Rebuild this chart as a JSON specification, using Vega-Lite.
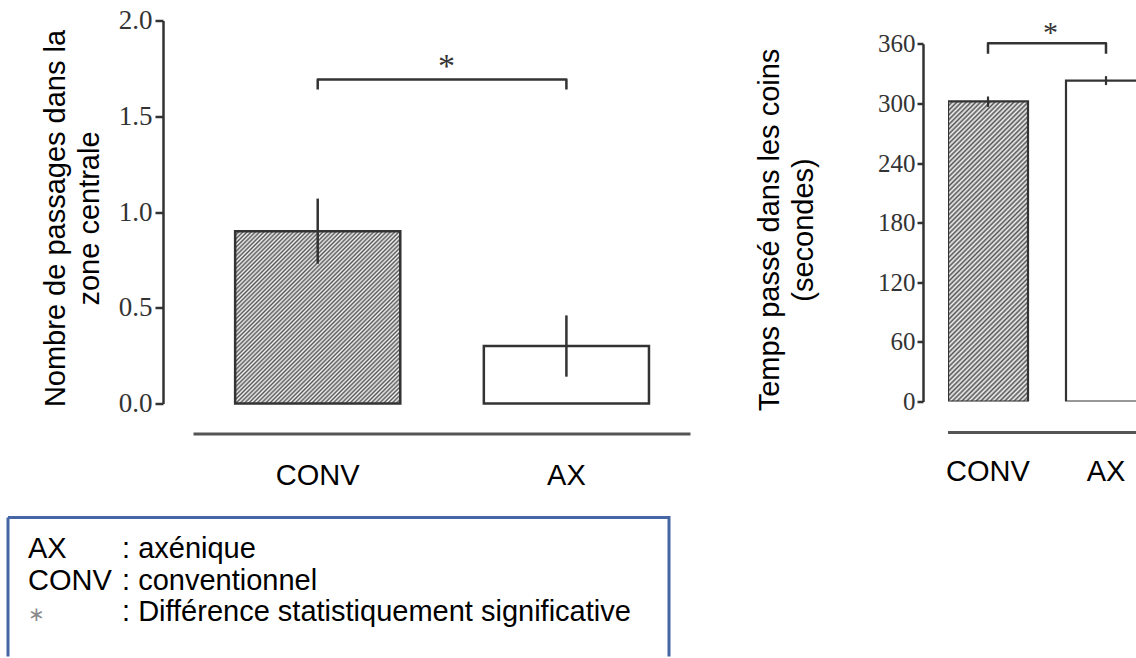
{
  "$schema": "https://vega.github.io/schema/vega-lite/v6.json",
  "padding": {"left": 6, "top": 6.5, "right": 0, "bottom": 0},
  "background": "white",
  "config": {"view": {"stroke": null}, "axis": {"grid": false}},
  "spacing": 25,
  "vconcat": [
    {
      "hconcat": [
        {
          "width": 682,
          "height": 383,
          "data": {"values": [
            {"group": "CONV", "mean": 0.9, "lo": 0.73, "hi": 1.07},
            {"group": "AX", "mean": 0.3, "lo": 0.14, "hi": 0.46}
          ]},
          "encoding": {
            "x": {"field": "group", "type": "nominal",
              "scale": {"domain": ["CONV", "AX"], "paddingInner": 0.336, "paddingOuter": 0.5392, "align": 0.847},
              "axis": {"title": null, "offset": 30, "labelAngle": 0, "labelFont": "Liberation Sans", "labelFontSize": 29, "labelColor": "#000", "labelPadding": 28, "ticks": false, "tickSize": 0, "domainColor": "#555", "domainWidth": 3, "domainDash": [0, 185, 497, 10]}},
            "y": {"field": "mean", "type": "quantitative",
              "scale": {"domain": [0, 2], "nice": false, "zero": true},
              "axis": {"values": [0, 0.5, 1, 1.5, 2], "format": ".1f", "offset": -155,
                "title": ["Nombre de passages dans la", "zone centrale"],
                "titleFont": "Liberation Sans", "titleFontSize": 29, "titleFontWeight": "normal", "titleColor": "#000", "titlePadding": 14, "titleY": 197.5, "titleLineHeight": 34,
                "labelFont": "Liberation Serif", "labelFontSize": 27, "labelColor": "#333", "labelPadding": 3,
                "tickSize": 8, "tickWidth": 2.5, "tickColor": "#333", "domainColor": "#333", "domainWidth": 2.5}}
          },
          "layer": [
            {
              "transform": [{"filter": "datum.group === 'CONV'"}],
              "mark": {"type": "bar", "stroke": "#333", "strokeWidth": 2.5,
                "fill": {"gradient": "linear", "x1": 0, "y1": 0, "x2": 0.9776, "y2": 1.0214, "stops": [
{"offset":0,"color":"#555"},{"offset":0.00625,"color":"#f5f5f5"},{"offset":0.0125,"color":"#555"},{"offset":0.01875,"color":"#f5f5f5"},{"offset":0.025,"color":"#555"},{"offset":0.03125,"color":"#f5f5f5"},{"offset":0.0375,"color":"#555"},{"offset":0.04375,"color":"#f5f5f5"},{"offset":0.05,"color":"#555"},{"offset":0.05625,"color":"#f5f5f5"},{"offset":0.0625,"color":"#555"},{"offset":0.06875,"color":"#f5f5f5"},{"offset":0.075,"color":"#555"},{"offset":0.08125,"color":"#f5f5f5"},{"offset":0.0875,"color":"#555"},{"offset":0.09375,"color":"#f5f5f5"},
{"offset":0.1,"color":"#555"},{"offset":0.10625,"color":"#f5f5f5"},{"offset":0.1125,"color":"#555"},{"offset":0.11875,"color":"#f5f5f5"},{"offset":0.125,"color":"#555"},{"offset":0.13125,"color":"#f5f5f5"},{"offset":0.1375,"color":"#555"},{"offset":0.14375,"color":"#f5f5f5"},{"offset":0.15,"color":"#555"},{"offset":0.15625,"color":"#f5f5f5"},{"offset":0.1625,"color":"#555"},{"offset":0.16875,"color":"#f5f5f5"},{"offset":0.175,"color":"#555"},{"offset":0.18125,"color":"#f5f5f5"},{"offset":0.1875,"color":"#555"},{"offset":0.19375,"color":"#f5f5f5"},
{"offset":0.2,"color":"#555"},{"offset":0.20625,"color":"#f5f5f5"},{"offset":0.2125,"color":"#555"},{"offset":0.21875,"color":"#f5f5f5"},{"offset":0.225,"color":"#555"},{"offset":0.23125,"color":"#f5f5f5"},{"offset":0.2375,"color":"#555"},{"offset":0.24375,"color":"#f5f5f5"},{"offset":0.25,"color":"#555"},{"offset":0.25625,"color":"#f5f5f5"},{"offset":0.2625,"color":"#555"},{"offset":0.26875,"color":"#f5f5f5"},{"offset":0.275,"color":"#555"},{"offset":0.28125,"color":"#f5f5f5"},{"offset":0.2875,"color":"#555"},{"offset":0.29375,"color":"#f5f5f5"},
{"offset":0.3,"color":"#555"},{"offset":0.30625,"color":"#f5f5f5"},{"offset":0.3125,"color":"#555"},{"offset":0.31875,"color":"#f5f5f5"},{"offset":0.325,"color":"#555"},{"offset":0.33125,"color":"#f5f5f5"},{"offset":0.3375,"color":"#555"},{"offset":0.34375,"color":"#f5f5f5"},{"offset":0.35,"color":"#555"},{"offset":0.35625,"color":"#f5f5f5"},{"offset":0.3625,"color":"#555"},{"offset":0.36875,"color":"#f5f5f5"},{"offset":0.375,"color":"#555"},{"offset":0.38125,"color":"#f5f5f5"},{"offset":0.3875,"color":"#555"},{"offset":0.39375,"color":"#f5f5f5"},
{"offset":0.4,"color":"#555"},{"offset":0.40625,"color":"#f5f5f5"},{"offset":0.4125,"color":"#555"},{"offset":0.41875,"color":"#f5f5f5"},{"offset":0.425,"color":"#555"},{"offset":0.43125,"color":"#f5f5f5"},{"offset":0.4375,"color":"#555"},{"offset":0.44375,"color":"#f5f5f5"},{"offset":0.45,"color":"#555"},{"offset":0.45625,"color":"#f5f5f5"},{"offset":0.4625,"color":"#555"},{"offset":0.46875,"color":"#f5f5f5"},{"offset":0.475,"color":"#555"},{"offset":0.48125,"color":"#f5f5f5"},{"offset":0.4875,"color":"#555"},{"offset":0.49375,"color":"#f5f5f5"},
{"offset":0.5,"color":"#555"},{"offset":0.50625,"color":"#f5f5f5"},{"offset":0.5125,"color":"#555"},{"offset":0.51875,"color":"#f5f5f5"},{"offset":0.525,"color":"#555"},{"offset":0.53125,"color":"#f5f5f5"},{"offset":0.5375,"color":"#555"},{"offset":0.54375,"color":"#f5f5f5"},{"offset":0.55,"color":"#555"},{"offset":0.55625,"color":"#f5f5f5"},{"offset":0.5625,"color":"#555"},{"offset":0.56875,"color":"#f5f5f5"},{"offset":0.575,"color":"#555"},{"offset":0.58125,"color":"#f5f5f5"},{"offset":0.5875,"color":"#555"},{"offset":0.59375,"color":"#f5f5f5"},
{"offset":0.6,"color":"#555"},{"offset":0.60625,"color":"#f5f5f5"},{"offset":0.6125,"color":"#555"},{"offset":0.61875,"color":"#f5f5f5"},{"offset":0.625,"color":"#555"},{"offset":0.63125,"color":"#f5f5f5"},{"offset":0.6375,"color":"#555"},{"offset":0.64375,"color":"#f5f5f5"},{"offset":0.65,"color":"#555"},{"offset":0.65625,"color":"#f5f5f5"},{"offset":0.6625,"color":"#555"},{"offset":0.66875,"color":"#f5f5f5"},{"offset":0.675,"color":"#555"},{"offset":0.68125,"color":"#f5f5f5"},{"offset":0.6875,"color":"#555"},{"offset":0.69375,"color":"#f5f5f5"},
{"offset":0.7,"color":"#555"},{"offset":0.70625,"color":"#f5f5f5"},{"offset":0.7125,"color":"#555"},{"offset":0.71875,"color":"#f5f5f5"},{"offset":0.725,"color":"#555"},{"offset":0.73125,"color":"#f5f5f5"},{"offset":0.7375,"color":"#555"},{"offset":0.74375,"color":"#f5f5f5"},{"offset":0.75,"color":"#555"},{"offset":0.75625,"color":"#f5f5f5"},{"offset":0.7625,"color":"#555"},{"offset":0.76875,"color":"#f5f5f5"},{"offset":0.775,"color":"#555"},{"offset":0.78125,"color":"#f5f5f5"},{"offset":0.7875,"color":"#555"},{"offset":0.79375,"color":"#f5f5f5"},
{"offset":0.8,"color":"#555"},{"offset":0.80625,"color":"#f5f5f5"},{"offset":0.8125,"color":"#555"},{"offset":0.81875,"color":"#f5f5f5"},{"offset":0.825,"color":"#555"},{"offset":0.83125,"color":"#f5f5f5"},{"offset":0.8375,"color":"#555"},{"offset":0.84375,"color":"#f5f5f5"},{"offset":0.85,"color":"#555"},{"offset":0.85625,"color":"#f5f5f5"},{"offset":0.8625,"color":"#555"},{"offset":0.86875,"color":"#f5f5f5"},{"offset":0.875,"color":"#555"},{"offset":0.88125,"color":"#f5f5f5"},{"offset":0.8875,"color":"#555"},{"offset":0.89375,"color":"#f5f5f5"},
{"offset":0.9,"color":"#555"},{"offset":0.90625,"color":"#f5f5f5"},{"offset":0.9125,"color":"#555"},{"offset":0.91875,"color":"#f5f5f5"},{"offset":0.925,"color":"#555"},{"offset":0.93125,"color":"#f5f5f5"},{"offset":0.9375,"color":"#555"},{"offset":0.94375,"color":"#f5f5f5"},{"offset":0.95,"color":"#555"},{"offset":0.95625,"color":"#f5f5f5"},{"offset":0.9625,"color":"#555"},{"offset":0.96875,"color":"#f5f5f5"},{"offset":0.975,"color":"#555"},{"offset":0.98125,"color":"#f5f5f5"},{"offset":0.9875,"color":"#555"},{"offset":0.99375,"color":"#f5f5f5"},
{"offset":1,"color":"#555"}
                ]}}
            },
            {
              "transform": [{"filter": "datum.group === 'AX'"}],
              "mark": {"type": "bar", "fill": "white", "stroke": "#333", "strokeWidth": 2.5}
            },
            {
              "mark": {"type": "rule", "color": "#333", "strokeWidth": 2.5},
              "encoding": {"y": {"field": "lo", "type": "quantitative"}, "y2": {"field": "hi"}}
            },
            {
              "data": {"values": [
                {"group": "CONV", "by": 1.64, "o": 1},
                {"group": "CONV", "by": 1.692, "o": 2},
                {"group": "AX", "by": 1.692, "o": 3},
                {"group": "AX", "by": 1.64, "o": 4}
              ]},
              "mark": {"type": "line", "color": "#333", "strokeWidth": 2.5, "strokeJoin": "round"},
              "encoding": {"y": {"field": "by", "type": "quantitative"}, "order": {"field": "o", "type": "quantitative"}}
            },
            {
              "data": {"values": [{"label": "*", "ay": 1.706}]},
              "mark": {"type": "text", "font": "Liberation Serif", "fontSize": 34, "color": "#333", "align": "center", "baseline": "alphabetic"},
              "encoding": {"x": {"datum": "CONV", "bandPosition": 1.28}, "y": {"field": "ay", "type": "quantitative"}, "text": {"field": "label"}}
            }
          ]
        },
        {
          "width": 188,
          "height": 381,
          "data": {"values": [
            {"group": "CONV", "mean": 302, "lo": 296.5, "hi": 307},
            {"group": "AX", "mean": 323, "lo": 318.5, "hi": 327.5}
          ]},
          "encoding": {
            "x": {"field": "group", "type": "nominal",
              "scale": {"domain": ["CONV", "AX"], "range": [0, 198], "paddingInner": 0.322, "paddingOuter": 0},
              "axis": {"title": null, "offset": 31, "labelAngle": 0, "labelFont": "Liberation Sans", "labelFontSize": 29, "labelColor": "#000", "labelPadding": 25, "ticks": false, "tickSize": 0, "domain": false}},
            "y": {"field": "mean", "type": "quantitative",
              "scale": {"domain": [0, 383.5], "nice": false},
              "axis": {"values": [0, 60, 120, 180, 240, 300, 360], "offset": 25,
                "title": ["Temps passé dans les coins", "(secondes)"],
                "titleFont": "Liberation Sans", "titleFontSize": 29, "titleFontWeight": "normal", "titleColor": "#000", "titlePadding": 59.5, "titleY": 209, "titleLineHeight": 34,
                "labelFont": "Liberation Serif", "labelFontSize": 25, "labelColor": "#333", "labelPadding": 2,
                "tickSize": 6, "tickWidth": 2.5, "tickColor": "#333", "domainColor": "#333", "domainWidth": 2.5, "domainDash": [357.7, 100]}}
          },
          "layer": [
            {
              "transform": [{"filter": "datum.group === 'CONV'"}],
              "mark": {"type": "bar", "clip": true, "stroke": "#333", "strokeWidth": 2.2,
                "fill": {"gradient": "linear", "x1": 0, "y1": 0, "x2": 0.3153, "y2": 1.1826, "stops": [
{"offset":0,"color":"#555"},{"offset":0.00625,"color":"#f5f5f5"},{"offset":0.0125,"color":"#555"},{"offset":0.01875,"color":"#f5f5f5"},{"offset":0.025,"color":"#555"},{"offset":0.03125,"color":"#f5f5f5"},{"offset":0.0375,"color":"#555"},{"offset":0.04375,"color":"#f5f5f5"},{"offset":0.05,"color":"#555"},{"offset":0.05625,"color":"#f5f5f5"},{"offset":0.0625,"color":"#555"},{"offset":0.06875,"color":"#f5f5f5"},{"offset":0.075,"color":"#555"},{"offset":0.08125,"color":"#f5f5f5"},{"offset":0.0875,"color":"#555"},{"offset":0.09375,"color":"#f5f5f5"},
{"offset":0.1,"color":"#555"},{"offset":0.10625,"color":"#f5f5f5"},{"offset":0.1125,"color":"#555"},{"offset":0.11875,"color":"#f5f5f5"},{"offset":0.125,"color":"#555"},{"offset":0.13125,"color":"#f5f5f5"},{"offset":0.1375,"color":"#555"},{"offset":0.14375,"color":"#f5f5f5"},{"offset":0.15,"color":"#555"},{"offset":0.15625,"color":"#f5f5f5"},{"offset":0.1625,"color":"#555"},{"offset":0.16875,"color":"#f5f5f5"},{"offset":0.175,"color":"#555"},{"offset":0.18125,"color":"#f5f5f5"},{"offset":0.1875,"color":"#555"},{"offset":0.19375,"color":"#f5f5f5"},
{"offset":0.2,"color":"#555"},{"offset":0.20625,"color":"#f5f5f5"},{"offset":0.2125,"color":"#555"},{"offset":0.21875,"color":"#f5f5f5"},{"offset":0.225,"color":"#555"},{"offset":0.23125,"color":"#f5f5f5"},{"offset":0.2375,"color":"#555"},{"offset":0.24375,"color":"#f5f5f5"},{"offset":0.25,"color":"#555"},{"offset":0.25625,"color":"#f5f5f5"},{"offset":0.2625,"color":"#555"},{"offset":0.26875,"color":"#f5f5f5"},{"offset":0.275,"color":"#555"},{"offset":0.28125,"color":"#f5f5f5"},{"offset":0.2875,"color":"#555"},{"offset":0.29375,"color":"#f5f5f5"},
{"offset":0.3,"color":"#555"},{"offset":0.30625,"color":"#f5f5f5"},{"offset":0.3125,"color":"#555"},{"offset":0.31875,"color":"#f5f5f5"},{"offset":0.325,"color":"#555"},{"offset":0.33125,"color":"#f5f5f5"},{"offset":0.3375,"color":"#555"},{"offset":0.34375,"color":"#f5f5f5"},{"offset":0.35,"color":"#555"},{"offset":0.35625,"color":"#f5f5f5"},{"offset":0.3625,"color":"#555"},{"offset":0.36875,"color":"#f5f5f5"},{"offset":0.375,"color":"#555"},{"offset":0.38125,"color":"#f5f5f5"},{"offset":0.3875,"color":"#555"},{"offset":0.39375,"color":"#f5f5f5"},
{"offset":0.4,"color":"#555"},{"offset":0.40625,"color":"#f5f5f5"},{"offset":0.4125,"color":"#555"},{"offset":0.41875,"color":"#f5f5f5"},{"offset":0.425,"color":"#555"},{"offset":0.43125,"color":"#f5f5f5"},{"offset":0.4375,"color":"#555"},{"offset":0.44375,"color":"#f5f5f5"},{"offset":0.45,"color":"#555"},{"offset":0.45625,"color":"#f5f5f5"},{"offset":0.4625,"color":"#555"},{"offset":0.46875,"color":"#f5f5f5"},{"offset":0.475,"color":"#555"},{"offset":0.48125,"color":"#f5f5f5"},{"offset":0.4875,"color":"#555"},{"offset":0.49375,"color":"#f5f5f5"},
{"offset":0.5,"color":"#555"},{"offset":0.50625,"color":"#f5f5f5"},{"offset":0.5125,"color":"#555"},{"offset":0.51875,"color":"#f5f5f5"},{"offset":0.525,"color":"#555"},{"offset":0.53125,"color":"#f5f5f5"},{"offset":0.5375,"color":"#555"},{"offset":0.54375,"color":"#f5f5f5"},{"offset":0.55,"color":"#555"},{"offset":0.55625,"color":"#f5f5f5"},{"offset":0.5625,"color":"#555"},{"offset":0.56875,"color":"#f5f5f5"},{"offset":0.575,"color":"#555"},{"offset":0.58125,"color":"#f5f5f5"},{"offset":0.5875,"color":"#555"},{"offset":0.59375,"color":"#f5f5f5"},
{"offset":0.6,"color":"#555"},{"offset":0.60625,"color":"#f5f5f5"},{"offset":0.6125,"color":"#555"},{"offset":0.61875,"color":"#f5f5f5"},{"offset":0.625,"color":"#555"},{"offset":0.63125,"color":"#f5f5f5"},{"offset":0.6375,"color":"#555"},{"offset":0.64375,"color":"#f5f5f5"},{"offset":0.65,"color":"#555"},{"offset":0.65625,"color":"#f5f5f5"},{"offset":0.6625,"color":"#555"},{"offset":0.66875,"color":"#f5f5f5"},{"offset":0.675,"color":"#555"},{"offset":0.68125,"color":"#f5f5f5"},{"offset":0.6875,"color":"#555"},{"offset":0.69375,"color":"#f5f5f5"},
{"offset":0.7,"color":"#555"},{"offset":0.70625,"color":"#f5f5f5"},{"offset":0.7125,"color":"#555"},{"offset":0.71875,"color":"#f5f5f5"},{"offset":0.725,"color":"#555"},{"offset":0.73125,"color":"#f5f5f5"},{"offset":0.7375,"color":"#555"},{"offset":0.74375,"color":"#f5f5f5"},{"offset":0.75,"color":"#555"},{"offset":0.75625,"color":"#f5f5f5"},{"offset":0.7625,"color":"#555"},{"offset":0.76875,"color":"#f5f5f5"},{"offset":0.775,"color":"#555"},{"offset":0.78125,"color":"#f5f5f5"},{"offset":0.7875,"color":"#555"},{"offset":0.79375,"color":"#f5f5f5"},
{"offset":0.8,"color":"#555"},{"offset":0.80625,"color":"#f5f5f5"},{"offset":0.8125,"color":"#555"},{"offset":0.81875,"color":"#f5f5f5"},{"offset":0.825,"color":"#555"},{"offset":0.83125,"color":"#f5f5f5"},{"offset":0.8375,"color":"#555"},{"offset":0.84375,"color":"#f5f5f5"},{"offset":0.85,"color":"#555"},{"offset":0.85625,"color":"#f5f5f5"},{"offset":0.8625,"color":"#555"},{"offset":0.86875,"color":"#f5f5f5"},{"offset":0.875,"color":"#555"},{"offset":0.88125,"color":"#f5f5f5"},{"offset":0.8875,"color":"#555"},{"offset":0.89375,"color":"#f5f5f5"},
{"offset":0.9,"color":"#555"},{"offset":0.90625,"color":"#f5f5f5"},{"offset":0.9125,"color":"#555"},{"offset":0.91875,"color":"#f5f5f5"},{"offset":0.925,"color":"#555"},{"offset":0.93125,"color":"#f5f5f5"},{"offset":0.9375,"color":"#555"},{"offset":0.94375,"color":"#f5f5f5"},{"offset":0.95,"color":"#555"},{"offset":0.95625,"color":"#f5f5f5"},{"offset":0.9625,"color":"#555"},{"offset":0.96875,"color":"#f5f5f5"},{"offset":0.975,"color":"#555"},{"offset":0.98125,"color":"#f5f5f5"},{"offset":0.9875,"color":"#555"},{"offset":0.99375,"color":"#f5f5f5"},
{"offset":1,"color":"#555"}
                ]}}
            },
            {
              "transform": [{"filter": "datum.group === 'AX'"}],
              "mark": {"type": "bar", "clip": true, "fill": "white", "stroke": "#333", "strokeWidth": 2.2}
            },
            {
              "mark": {"type": "rule", "color": "#333", "strokeWidth": 2.2},
              "encoding": {"y": {"field": "lo", "type": "quantitative"}, "y2": {"field": "hi"}}
            },
            {
              "mark": {"type": "rule", "color": "#555", "strokeWidth": 3},
              "encoding": {"x": null, "y": {"datum": -31.2, "type": "quantitative"}}
            },
            {
              "data": {"values": [
                {"group": "CONV", "by": 350, "o": 1},
                {"group": "CONV", "by": 360.7, "o": 2},
                {"group": "AX", "by": 360.7, "o": 3},
                {"group": "AX", "by": 350, "o": 4}
              ]},
              "mark": {"type": "line", "color": "#333", "strokeWidth": 2.5, "strokeJoin": "round"},
              "encoding": {"y": {"field": "by", "type": "quantitative"}, "order": {"field": "o", "type": "quantitative"}}
            },
            {
              "data": {"values": [{"label": "*", "ay": 361.9}]},
              "mark": {"type": "text", "font": "Liberation Serif", "fontSize": 30, "color": "#333", "align": "center", "baseline": "alphabetic"},
              "encoding": {"x": {"datum": "CONV", "bandPosition": 1.28}, "y": {"field": "ay", "type": "quantitative"}, "text": {"field": "label"}}
            }
          ]
        }
      ],
      "spacing": 258,
      "bounds": "flush"
    },
    {
      "width": 661,
      "height": 139,
      "view": {"stroke": "#4565a5", "strokeWidth": 3, "strokeDash": [800, 661, 139, 0]},
      "data": {"values": [
        {"code": "AX", "desc": ": axénique"},
        {"code": "CONV", "desc": ": conventionnel"},
        {"code": "∗", "desc": ": Différence statistiquement significative"}
      ]},
      "resolve": {"scale": {"x": "independent"}},
      "layer": [
        {
          "mark": {"type": "text", "align": "left", "baseline": "alphabetic", "font": "Liberation Sans", "fontSize": 29},
          "encoding": {
            "x": {"datum": "code", "scale": {"type": "point", "domain": ["code"], "padding": 1, "align": 0.0303}, "axis": null},
            "y": {"field": "code", "type": "nominal", "scale": {"type": "band", "domain": ["AX", "CONV", "∗"], "paddingInner": 0, "paddingOuter": 0.706, "align": 0.567}, "axis": null},
            "text": {"field": "code"},
            "size": {"condition": {"test": "datum.code === '∗'", "value": 20}, "value": 29},
            "color": {"condition": {"test": "datum.code === '∗'", "value": "#8a8a8a"}, "value": "#000"}
          }
        },
        {
          "mark": {"type": "text", "align": "left", "baseline": "alphabetic", "font": "Liberation Sans", "fontSize": 29, "color": "#000"},
          "encoding": {
            "x": {"datum": "desc", "scale": {"type": "point", "domain": ["desc"], "padding": 1, "align": 0.1725}, "axis": null},
            "y": {"field": "code", "type": "nominal"},
            "text": {"field": "desc"}
          }
        }
      ]
    }
  ]
}
